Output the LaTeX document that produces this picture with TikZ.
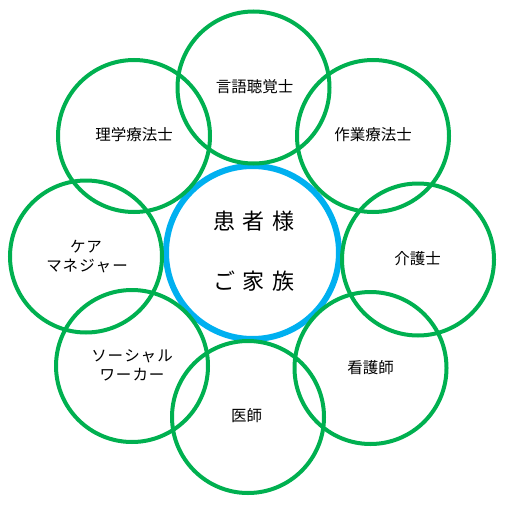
\documentclass[tikz,border=0pt]{standalone}
\usepackage{fontspec}
\newfontfamily\cjk{Noto Sans CJK JP}
\definecolor{ringgreen}{RGB}{0,176,80}
\definecolor{ringblue}{RGB}{0,176,240}
\begin{document}
\begin{tikzpicture}[x=1pt,y=-1pt,
  outer/.style={circle,draw=ringgreen,line width=4pt,minimum size=152pt,inner sep=0pt},
  inner/.style={circle,draw=ringblue,line width=6pt,minimum size=173pt,inner sep=0pt},
  lbl/.style={font=\cjk\fontsize{15.5}{18}\selectfont,text=black,align=center,inner sep=0pt},
  biglbl/.style={font=\cjk\fontsize{22}{26}\selectfont,text=black,align=center,inner sep=0pt}]
\path[use as bounding box] (0,0) rectangle (505,508);
\node[inner] (center) at (252.5,252.5) {};
\node[outer] (st) at (253.5,87.5) {};
\node[outer] (ot) at (373,136) {};
\node[outer] (cw) at (418,259.5) {};
\node[outer] (ns) at (370.5,368) {};
\node[outer] (dr) at (248,417) {};
\node[outer] (sw) at (132,366) {};
\node[outer] (cm) at (86,256.5) {};
\node[outer] (pt) at (134,136) {};
\node[biglbl] (t1) at (254,221.5) {患\hspace{8pt}者\hspace{8pt}様};
\node[biglbl] (t2) at (254,281.5) {ご\hspace{8pt}家\hspace{8pt}族};
\node[lbl] (l1) at (254.5,87) {言語聴覚士};
\node[lbl] (l2) at (373,134.5) {作業療法士};
\node[lbl] (l3) at (417.5,259) {介護士};
\node[lbl] (l4) at (370.5,368) {看護師};
\node[lbl] (l5) at (246.5,416) {医師};
\node[lbl] (l6a) at (132,356.5) {ソ\hspace{1pt}ー\hspace{1pt}シ\hspace{1pt}ャ\hspace{1pt}ル};
\node[lbl] (l6b) at (132,375) {ワ\hspace{1pt}ー\hspace{1pt}カ\hspace{1pt}ー};
\node[lbl] (l7a) at (86,247) {ケ\hspace{1pt}ア};
\node[lbl] (l7b) at (87,265.5) {マ\hspace{1pt}ネ\hspace{1pt}ジ\hspace{1pt}ャ\hspace{1pt}ー};
\node[lbl] (l8) at (134,134.5) {理学療法士};
\end{tikzpicture}
\end{document}
